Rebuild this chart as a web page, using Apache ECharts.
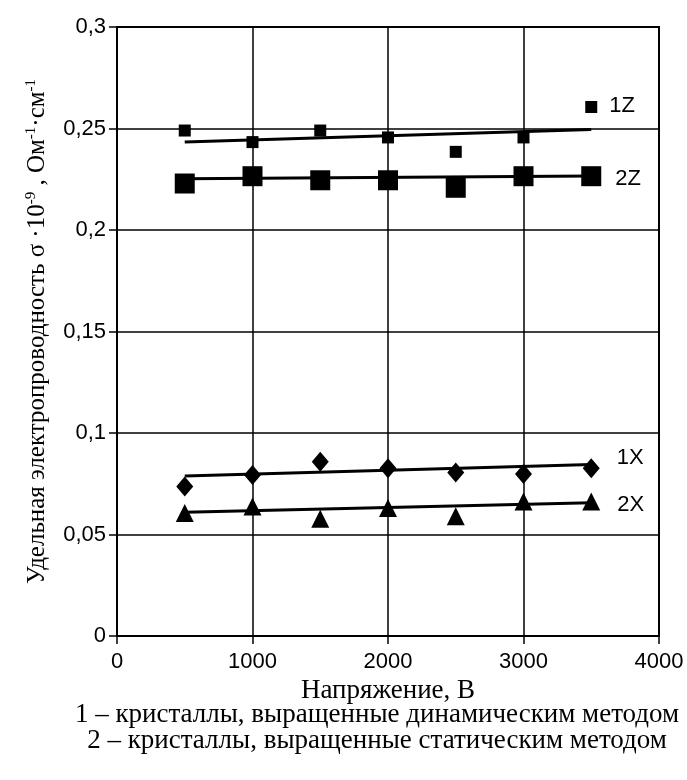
<!DOCTYPE html>
<html>
<head>
<meta charset="utf-8">
<script src="https://cdn.jsdelivr.net/npm/echarts@6/dist/echarts.min.js"></script>
<style>
  html, body { margin: 0; padding: 0; background: #fff; }
  #root { width: 687px; height: 780px; }
</style>
</head>
<body>
<div id="root"></div>
<script>
// voltage, V
const voltages = [500, 1000, 1500, 2000, 2500, 3000, 3500]
// conductivity sigma*10^-9
const values1Z = [0.249, 0.2433, 0.249, 0.2456, 0.2385, 0.2456, 0.2606]
const values2Z = [0.2229, 0.2265, 0.2245, 0.2245, 0.2208, 0.2265, 0.2265]
const values1X = [0.0736, 0.0793, 0.0858, 0.0826, 0.0805, 0.0798, 0.0826]
const values2X = [0.0606, 0.0638, 0.0578, 0.063, 0.059, 0.0663, 0.0663]
// trend line ends (at 500 V and 3500 V)
const trendX = [500, 3500]
const trend1Z = [0.2434, 0.2495]
const trend2Z = [0.2252, 0.2266]
const trend1X = [0.0788, 0.0845]
const trend2X = [0.0609, 0.0657]

const seriesNames = ['1Z', '2Z', '1X', '2X']
const footnotes = [
  '1 – кристаллы, выращенные динамическим методом',
  '2 – кристаллы, выращенные статическим методом'
]

const serif = 'Liberation Serif'
const sans = 'Liberation Sans'

const pairs = (xs, ys) => xs.map((x, i) => [x, ys[i]])

const pointSeries = (name, ys, symbol, size, labelDist, labelOffset) => {
  const data = pairs(voltages, ys)
  const last = data.length - 1
  return {
    name,
    type: 'scatter',
    symbol,
    symbolSize: size,
    itemStyle: { color: '#000', opacity: 1 },
    z: 3,
    data: data.map((d, i) => i === last ? {
      value: d,
      label: {
        show: true,
        formatter: name,
        position: 'right',
        distance: labelDist,
        offset: labelOffset,
        color: '#000',
        fontFamily: sans,
        fontSize: 22
      }
    } : d)
  }
}

const trendSeries = ys => ({
  type: 'line',
  showSymbol: false,
  silent: true,
  z: 2,
  lineStyle: { color: '#000', width: 3 },
  data: pairs(trendX, ys)
})

const myChart = echarts.init(document.getElementById('root'))
const option = {
  animation: false,
  backgroundColor: '#fff',
  grid: {
    left: 117, right: 28, top: 27, bottom: 144,
    show: true, borderColor: '#000', borderWidth: 2
  },
  xAxis: {
    type: 'value',
    min: 0, max: 4000, interval: 1000,
    name: 'Напряжение, В',
    nameLocation: 'middle',
    nameGap: 39,
    nameTextStyle: { fontFamily: serif, fontSize: 27, color: '#000' },
    axisLine: { lineStyle: { color: '#000', width: 2 } },
    axisTick: { show: true, length: 8, lineStyle: { color: '#000', width: 1.5 } },
    axisLabel: {
      margin: 15, color: '#000', fontFamily: sans, fontSize: 22,
      formatter: v => String(v)
    },
    splitLine: { lineStyle: { color: '#000', width: 1.5 } }
  },
  yAxis: {
    type: 'value',
    min: 0, max: 0.3, interval: 0.05,
    name: '{n|Удельная электропроводность σ ·10}{s|-9}{n| , Ом}{s|-1}{n|·см}{s|-1}',
    nameLocation: 'middle',
    nameGap: 66,
    nameTextStyle: {
      color: '#000',
      rich: {
        n: { fontFamily: serif, fontSize: 25, lineHeight: 27, color: '#000' },
        s: { fontFamily: serif, fontSize: 15, lineHeight: 15, verticalAlign: 'top', color: '#000' }
      }
    },
    axisLine: { show: true, lineStyle: { color: '#000', width: 2 } },
    axisTick: { show: true, length: 8, lineStyle: { color: '#000', width: 1.5 } },
    axisLabel: {
      margin: 11, color: '#000', fontFamily: sans, fontSize: 22,
      formatter: v => String(+v.toFixed(2)).replace('.', ',')
    },
    splitLine: { lineStyle: { color: '#000', width: 1.5 } }
  },
  graphic: footnotes.map((t, i) => ({
    type: 'text',
    x: 377,
    y: 715 + i * 26,
    style: {
      text: t, fontFamily: serif, fontSize: 27, fill: '#000',
      textAlign: 'center', textVerticalAlign: 'middle'
    }
  })),
  series: [
    pointSeries(seriesNames[0], values1Z, 'rect', 12, 12, [0, -1]),
    trendSeries(trend1Z),
    pointSeries(seriesNames[1], values2Z, 'rect', 20, 14, [0, 3]),
    trendSeries(trend2Z),
    pointSeries(seriesNames[2], values1X, 'diamond', [17, 20], 17, [0, -10]),
    trendSeries(trend1X),
    pointSeries(seriesNames[3], values2X, 'triangle', [18, 18], 17, [0, 4]),
    trendSeries(trend2X)
  ]
}
if (option && typeof option === 'object') {
  myChart.setOption(option, true)
}
</script>
</body>
</html>
